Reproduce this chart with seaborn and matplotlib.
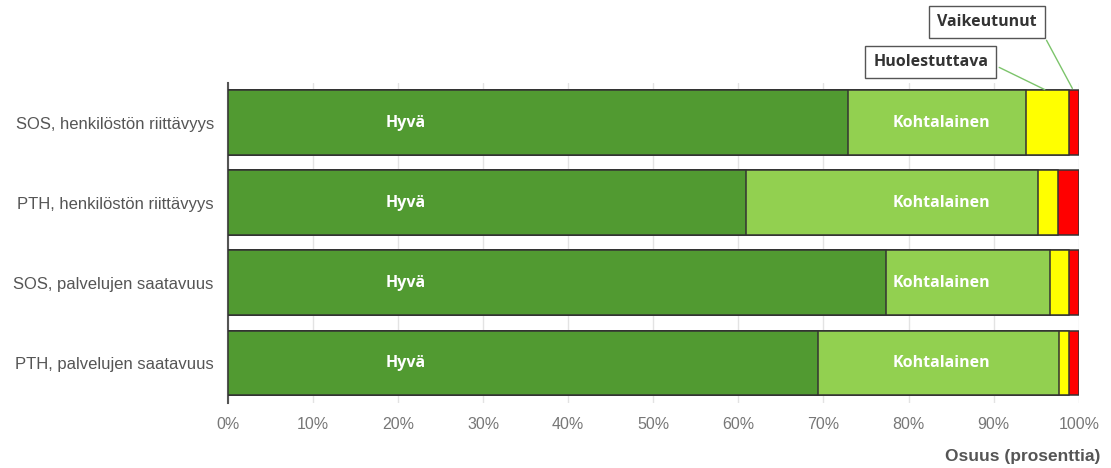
import pandas as pd
import numpy as np
import matplotlib.pyplot as plt
import seaborn as sns

# Stacked shares per category (percent)
categories = ['SOS, henkilöstön riittävyys', 'PTH, henkilöstön riittävyys',
              'SOS, palvelujen saatavuus', 'PTH, palvelujen saatavuus']
hyva = [72.9, 60.9, 77.3, 69.4]
kohtalainen = [20.9, 34.3, 19.3, 28.3]
huolestuttava = [5.0, 2.4, 2.3, 1.2]
vaikeutunut = [1.2, 2.4, 1.1, 1.1]

series_names = ['Hyvä', 'Kohtalainen', 'Huolestuttava', 'Vaikeutunut']
series_colors = ['#519a31', '#92d050', '#ffff00', '#ff0000']
x_ticks = list(range(0, 101, 10))

df = pd.DataFrame({'Kategoria': categories, 'Hyvä': hyva, 'Kohtalainen': kohtalainen,
                   'Huolestuttava': huolestuttava, 'Vaikeutunut': vaikeutunut})
cum = df[series_names].cumsum(axis=1)

sns.set_style('white')
plt.rcParams['font.family'] = ['Liberation Sans', 'DejaVu Sans']

fig = plt.figure(figsize=(11.11, 4.68), dpi=100)
ax = fig.add_axes([0.205, 0.139, 0.766, 0.684])

# draw cumulative totals from the outermost segment inwards so they stack
for name, color in reversed(list(zip(series_names, series_colors))):
    sns.barplot(x=cum[name], y=df['Kategoria'], color=color, orient='h',
                width=0.81, edgecolor='#333333', linewidth=1.1, ax=ax,
                saturation=1, zorder=3)

ax.set_xlim(0, 100)
ax.set_xticks(x_ticks)
ax.set_xticklabels([f'{t}%' for t in x_ticks], color='#777777', fontsize=11.5)
ax.tick_params(axis='x', length=4, color='#dddddd', pad=6)
ax.tick_params(axis='y', length=0, pad=10, labelsize=12, labelcolor='#555555')
ax.grid(axis='x', color='#e3e3e3', linewidth=1, zorder=0)
ax.set_axisbelow(True)
for s in ['top', 'right', 'bottom']:
    ax.spines[s].set_visible(False)
ax.spines['left'].set_color('#555555')
ax.spines['left'].set_linewidth(1.5)
ax.set_ylabel('')
ax.set_xlabel('Osuus (prosenttia)', fontsize=12.5, fontweight='bold', color='#555555')
ax.xaxis.set_label_coords(1.025, -0.145)
ax.xaxis.label.set_horizontalalignment('right')

# segment labels inside the bars
for i in range(len(categories)):
    ax.text(20.9, i, 'Hyvä', color='white', fontweight='bold', fontsize=11.5,
            ha='center', va='center', family=['Open Sans', 'DejaVu Sans'], zorder=5)
    ax.text(83.9, i, 'Kohtalainen', color='white', fontweight='bold', fontsize=11.5,
            ha='center', va='center', family=['Open Sans', 'DejaVu Sans'], zorder=5)

# callouts for the thin segments of the first bar
box = dict(boxstyle='square,pad=0.5', fc='white', ec='#555555', lw=1)
arrow = dict(arrowstyle='-', color='#7cc46b', lw=1, relpos=(1, 0.5))
ax.annotate('Huolestuttava', xy=(cum['Kohtalainen'][0] + huolestuttava[0] / 2, -0.40),
            xytext=(82.6, -0.76), textcoords='data', ha='center', va='center',
            fontsize=11.5, fontweight='bold', color='#333333',
            family=['Open Sans', 'DejaVu Sans'], bbox=box, arrowprops=arrow,
            annotation_clip=False)
ax.annotate('Vaikeutunut', xy=(cum['Huolestuttava'][0] + vaikeutunut[0] / 2, -0.40),
            xytext=(89.2, -1.26), textcoords='data', ha='center', va='center',
            fontsize=11.5, fontweight='bold', color='#333333',
            family=['Open Sans', 'DejaVu Sans'], bbox=box, arrowprops=arrow,
            annotation_clip=False)

plt.savefig('out.png', dpi=100)
